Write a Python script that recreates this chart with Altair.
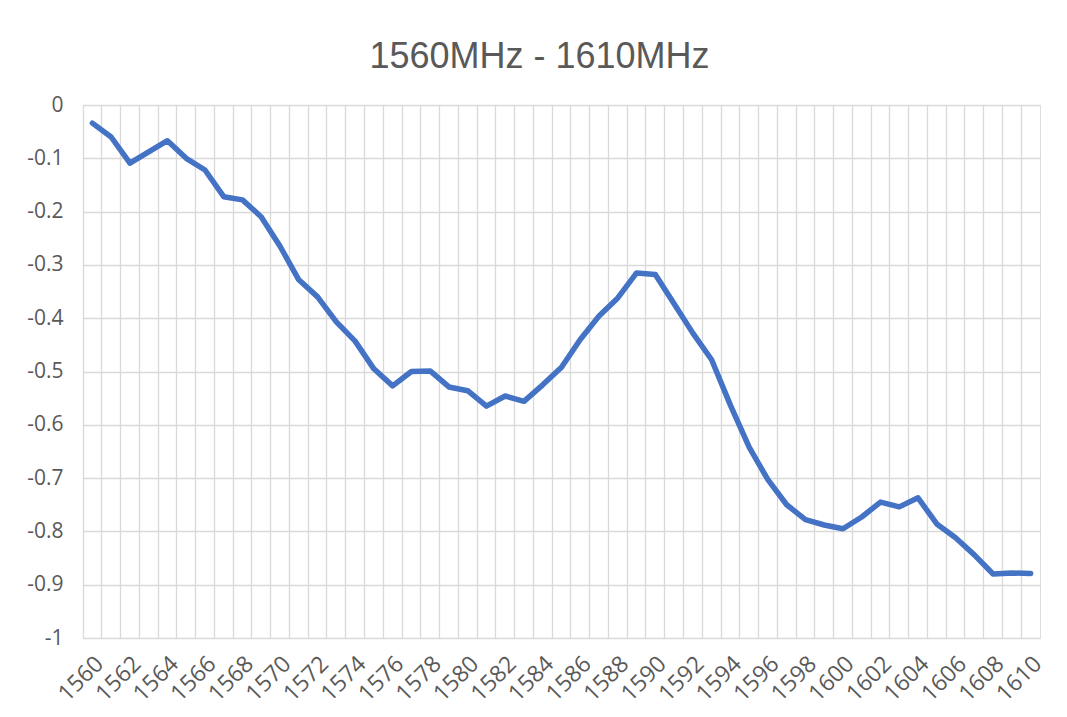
import altair as alt
import pandas as pd

freqs = [str(f) for f in range(1560, 1611)]
values = [
    -0.034, -0.060, -0.109, -0.088, -0.067, -0.100, -0.122, -0.172, -0.178, -0.210,
    -0.265, -0.328, -0.360, -0.407, -0.443, -0.495, -0.527, -0.500, -0.499, -0.529,
    -0.536, -0.565, -0.546, -0.556, -0.525, -0.492, -0.440, -0.396, -0.362, -0.315,
    -0.318, -0.373, -0.428, -0.478, -0.563, -0.642, -0.703, -0.750, -0.778, -0.788,
    -0.795, -0.773, -0.745, -0.754, -0.737, -0.786, -0.812, -0.844, -0.880, -0.878,
    -0.879,
]
y_ticks = [0, -0.1, -0.2, -0.3, -0.4, -0.5, -0.6, -0.7, -0.8, -0.9, -1]
title_text = "1560MHz - 1610MHz"

df = pd.DataFrame({"freq": freqs, "value": values})

grey = "#595959"
grid = "#d9d9d9"
W, H = 957, 533
band = W / len(freqs)

chart = (
    alt.Chart(df)
    .mark_line(color="#4472C4", strokeWidth=5.5, strokeCap="round", strokeJoin="round")
    .encode(
        x=alt.X(
            "freq:O",
            sort=freqs,
            scale=alt.Scale(type="band", paddingInner=0, paddingOuter=0),
            axis=alt.Axis(
                title=None,
                bandPosition=0,
                grid=True,
                gridColor=grid,
                gridWidth=1.3,
                ticks=False,
                domain=False,
                labelAngle=-45,
                labelAlign="right",
                labelBaseline="middle",
                labelOffset=band / 2 - 2,
                labelPadding=22,
                labelOverlap=False,
                labelFlush=False,
                labelExpr="toNumber(datum.value) % 2 == 0 ? datum.label : ''",
                labelFont="Open Sans",
                labelFontSize=23,
                labelColor=grey,
            ),
        ),
        y=alt.Y(
            "value:Q",
            scale=alt.Scale(domain=[-1, 0], nice=False, zero=False),
            axis=alt.Axis(
                title=None,
                values=y_ticks,
                format=".1~f",
                labelExpr="replace(datum.label, '\u2212', '-')",
                grid=True,
                gridColor=grid,
                gridWidth=1.3,
                ticks=False,
                domain=False,
                labelPadding=20,
                labelFont="Open Sans",
                labelFontSize=21,
                labelColor=grey,
            ),
        ),
    )
    .properties(
        width=W,
        height=H,
        title=alt.TitleParams(
            title_text,
            font="Liberation Sans",
            fontSize=36,
            fontWeight="normal",
            color=grey,
            anchor="middle",
            baseline="alphabetic",
            offset=-10,
            dx=-22,
        ),
        padding={"left": 75, "top": 97, "right": 19, "bottom": 71},
        autosize=alt.AutoSizeParams(type="none"),
    )
    .configure_view(stroke=grid, strokeWidth=1.3)
    .configure(background="white")
)

chart.save("out.html", embed_options={"renderer": "svg", "actions": False})
